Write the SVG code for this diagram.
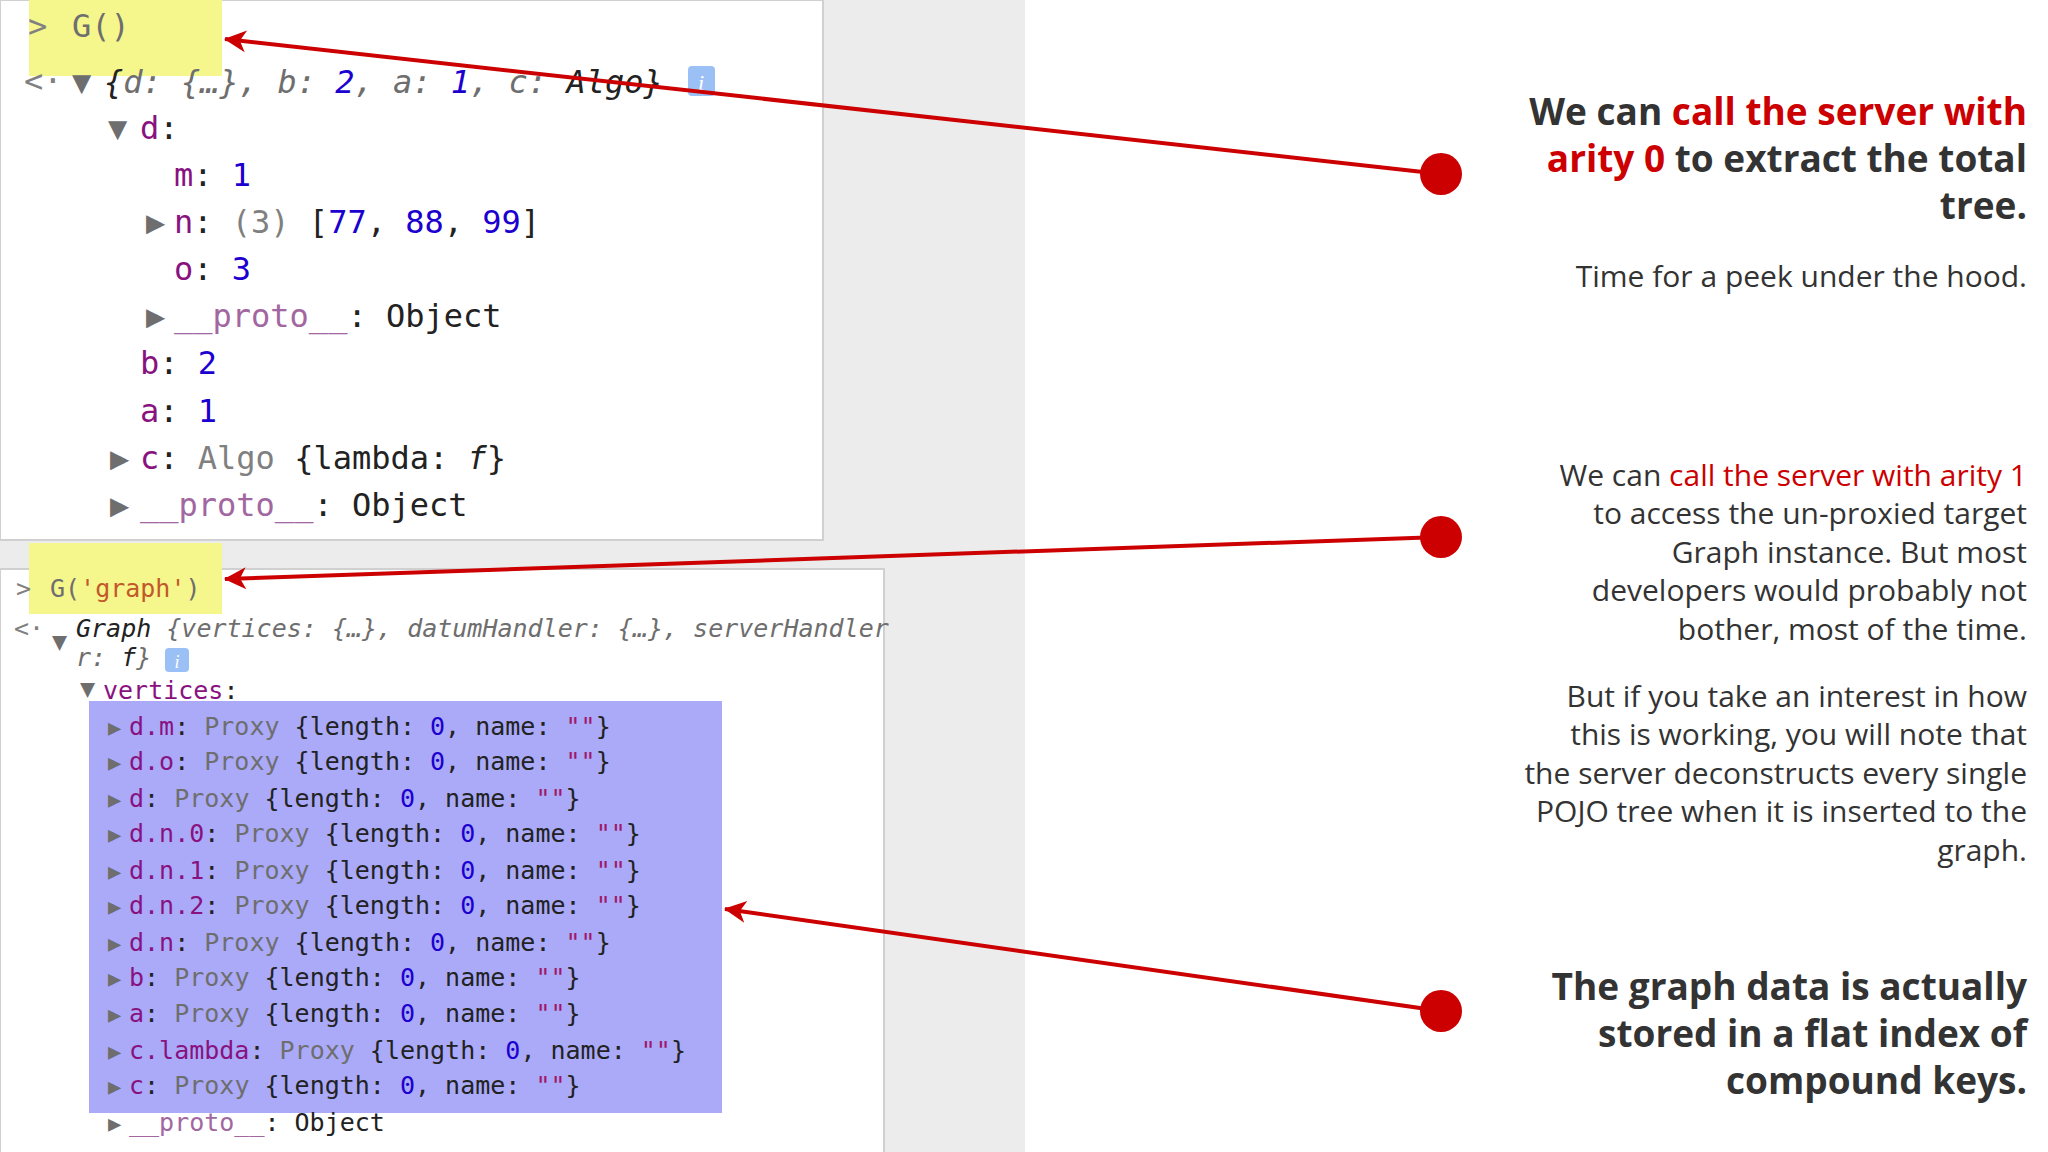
<svg xmlns="http://www.w3.org/2000/svg" width="2048" height="1152" viewBox="0 0 2048 1152">
<style>
.m1{font-family:"DejaVu Sans Mono",monospace;font-size:32px}
.m2{font-family:"DejaVu Sans Mono",monospace;font-size:25px}
.k{fill:#881280}.n{fill:#1c00cf}.g{fill:#808080}.b{fill:#222}.s{fill:#a0186a}.o{fill:#c1582a}
.t{fill:#6e6e6e}
.it{font-style:italic}
.h{font-family:"Open Sans",sans-serif;font-size:37px;font-weight:700;fill:#333;text-anchor:end}
.p{font-family:"Open Sans",sans-serif;font-size:30px;fill:#333;text-anchor:end}
.r{fill:#cc0000}
.c{stroke:#cc0000;stroke-width:4;fill:none}
</style>
<defs>
<marker id="ah" viewBox="0 0 10 10" refX="9" refY="5" markerWidth="10" markerHeight="10" markerUnits="userSpaceOnUse" orient="auto" style="overflow:visible">
<path d="M10,5 L-12,-6 L-6,5 L-12,16 Z" fill="#cc0000"/>
</marker>
</defs>
<rect width="2048" height="1152" fill="#fff"/>
<rect x="0" y="0" width="1025" height="1152" fill="#ececec"/>
<g id="panel1">
<rect x="0" y="0" width="823" height="540" fill="#fff" stroke="#d0d0d0" stroke-width="2"/>
<rect x="29" y="0" width="193" height="76" fill="#f5f68c"/>
<text class="m1 g" x="28" y="37">&gt;</text>
<text class="m1 t" x="72" y="37">G()</text>
<text class="m1 g" x="24" y="92" font-size="26">&lt;·</text>
<text class="m1 t" x="72" y="93">▼</text>
<text class="m1 it" x="104" y="93"><tspan class="b">{</tspan><tspan class="t">d: {…}, b: </tspan><tspan class="n">2</tspan><tspan class="t">, a: </tspan><tspan class="n">1</tspan><tspan class="t">, c: </tspan><tspan class="b">Algo}</tspan></text>
<rect x="688" y="66" width="27" height="30" rx="4" fill="#9bc0f5"/>
<text x="701" y="90" font-family="Liberation Serif,serif" font-style="italic" font-size="22" fill="#fff" text-anchor="middle">i</text>
<text class="m1 t" x="108" y="139" font-size="26">▼</text>
<text class="m1 k" x="140" y="139">d<tspan class="b">:</tspan></text>
<text class="m1" x="174" y="186"><tspan class="k">m</tspan><tspan class="b">: </tspan><tspan class="n">1</tspan></text>
<text class="m1 t" x="146" y="233" font-size="24">▶</text>
<text class="m1" x="174" y="233"><tspan class="k">n</tspan><tspan class="b">: </tspan><tspan class="g">(3) </tspan><tspan class="b">[</tspan><tspan class="n">77</tspan><tspan class="b">, </tspan><tspan class="n">88</tspan><tspan class="b">, </tspan><tspan class="n">99</tspan><tspan class="b">]</tspan></text>
<text class="m1" x="174" y="280"><tspan class="k">o</tspan><tspan class="b">: </tspan><tspan class="n">3</tspan></text>
<text class="m1 t" x="146" y="327" font-size="24">▶</text>
<text class="m1" x="174" y="327"><tspan fill="#a266a0">__proto__</tspan><tspan class="b">: Object</tspan></text>
<text class="m1" x="140" y="374"><tspan class="k">b</tspan><tspan class="b">: </tspan><tspan class="n">2</tspan></text>
<text class="m1" x="140" y="422"><tspan class="k">a</tspan><tspan class="b">: </tspan><tspan class="n">1</tspan></text>
<text class="m1 t" x="110" y="469" font-size="24">▶</text>
<text class="m1" x="140" y="469"><tspan class="k">c</tspan><tspan class="b">: </tspan><tspan class="g">Algo </tspan><tspan class="b">{lambda: </tspan><tspan class="b it">f</tspan><tspan class="b">}</tspan></text>
<text class="m1 t" x="110" y="516" font-size="24">▶</text>
<text class="m1" x="140" y="516"><tspan fill="#a266a0">__proto__</tspan><tspan class="b">: Object</tspan></text>
</g>
<g id="panel2">
<rect x="0" y="569" width="884" height="590" fill="#fff" stroke="#d0d0d0" stroke-width="2"/>
<rect x="29" y="543" width="193" height="71" fill="#f5f68c"/>
<text class="m2 g" x="16" y="597">&gt;</text>
<text class="m2" x="50" y="597"><tspan class="t">G(</tspan><tspan class="o">'graph'</tspan><tspan class="t">)</tspan></text>
<text class="m2 g" x="14" y="637" font-size="20">&lt;·</text>
<text class="m2 t" x="52" y="650" font-size="20">▼</text>
<text class="m2 it t" x="76" y="637"><tspan class="b">Graph</tspan> {vertices: {…}, datumHandler: {…}, serverHandler</text>
<text class="m2 it t" x="76" y="666">r: <tspan class="b">f</tspan>}</text>
<rect x="165" y="648" width="24" height="24" rx="4" fill="#9bc0f5"/>
<text x="177" y="668" font-family="Liberation Serif,serif" font-style="italic" font-size="18" fill="#fff" text-anchor="middle">i</text>
<text class="m2 t" x="80" y="697" font-size="20">▼</text>
<text class="m2" x="103" y="699"><tspan class="k">vertices</tspan><tspan class="b">:</tspan></text>
<rect x="89" y="701" width="633" height="412" fill="#aaaaf9"/>
<g class="m2">
<text x="108" y="735" font-size="22" class="t">▶</text><text x="129" y="735"><tspan class="k">d.m</tspan><tspan class="b">: </tspan><tspan class="t">Proxy </tspan><tspan class="b">{length: </tspan><tspan class="n">0</tspan><tspan class="b">, name: </tspan><tspan class="s">""</tspan><tspan class="b">}</tspan></text>
<text x="108" y="770" font-size="22" class="t">▶</text><text x="129" y="770"><tspan class="k">d.o</tspan><tspan class="b">: </tspan><tspan class="t">Proxy </tspan><tspan class="b">{length: </tspan><tspan class="n">0</tspan><tspan class="b">, name: </tspan><tspan class="s">""</tspan><tspan class="b">}</tspan></text>
<text x="108" y="807" font-size="22" class="t">▶</text><text x="129" y="807"><tspan class="k">d</tspan><tspan class="b">: </tspan><tspan class="t">Proxy </tspan><tspan class="b">{length: </tspan><tspan class="n">0</tspan><tspan class="b">, name: </tspan><tspan class="s">""</tspan><tspan class="b">}</tspan></text>
<text x="108" y="842" font-size="22" class="t">▶</text><text x="129" y="842"><tspan class="k">d.n.0</tspan><tspan class="b">: </tspan><tspan class="t">Proxy </tspan><tspan class="b">{length: </tspan><tspan class="n">0</tspan><tspan class="b">, name: </tspan><tspan class="s">""</tspan><tspan class="b">}</tspan></text>
<text x="108" y="879" font-size="22" class="t">▶</text><text x="129" y="879"><tspan class="k">d.n.1</tspan><tspan class="b">: </tspan><tspan class="t">Proxy </tspan><tspan class="b">{length: </tspan><tspan class="n">0</tspan><tspan class="b">, name: </tspan><tspan class="s">""</tspan><tspan class="b">}</tspan></text>
<text x="108" y="914" font-size="22" class="t">▶</text><text x="129" y="914"><tspan class="k">d.n.2</tspan><tspan class="b">: </tspan><tspan class="t">Proxy </tspan><tspan class="b">{length: </tspan><tspan class="n">0</tspan><tspan class="b">, name: </tspan><tspan class="s">""</tspan><tspan class="b">}</tspan></text>
<text x="108" y="951" font-size="22" class="t">▶</text><text x="129" y="951"><tspan class="k">d.n</tspan><tspan class="b">: </tspan><tspan class="t">Proxy </tspan><tspan class="b">{length: </tspan><tspan class="n">0</tspan><tspan class="b">, name: </tspan><tspan class="s">""</tspan><tspan class="b">}</tspan></text>
<text x="108" y="986" font-size="22" class="t">▶</text><text x="129" y="986"><tspan class="k">b</tspan><tspan class="b">: </tspan><tspan class="t">Proxy </tspan><tspan class="b">{length: </tspan><tspan class="n">0</tspan><tspan class="b">, name: </tspan><tspan class="s">""</tspan><tspan class="b">}</tspan></text>
<text x="108" y="1022" font-size="22" class="t">▶</text><text x="129" y="1022"><tspan class="k">a</tspan><tspan class="b">: </tspan><tspan class="t">Proxy </tspan><tspan class="b">{length: </tspan><tspan class="n">0</tspan><tspan class="b">, name: </tspan><tspan class="s">""</tspan><tspan class="b">}</tspan></text>
<text x="108" y="1059" font-size="22" class="t">▶</text><text x="129" y="1059"><tspan class="k">c.lambda</tspan><tspan class="b">: </tspan><tspan class="t">Proxy </tspan><tspan class="b">{length: </tspan><tspan class="n">0</tspan><tspan class="b">, name: </tspan><tspan class="s">""</tspan><tspan class="b">}</tspan></text>
<text x="108" y="1094" font-size="22" class="t">▶</text><text x="129" y="1094"><tspan class="k">c</tspan><tspan class="b">: </tspan><tspan class="t">Proxy </tspan><tspan class="b">{length: </tspan><tspan class="n">0</tspan><tspan class="b">, name: </tspan><tspan class="s">""</tspan><tspan class="b">}</tspan></text>
<text x="108" y="1131" font-size="22" class="t">▶</text><text x="129" y="1131"><tspan fill="#a266a0">__proto__</tspan><tspan class="b">: Object</tspan></text>
</g>
</g>
<g id="connectors">
<line class="c" x1="1441" y1="174" x2="225" y2="39" marker-end="url(#ah)"/>
<line class="c" x1="1441" y1="537" x2="225" y2="579" marker-end="url(#ah)"/>
<line class="c" x1="1441" y1="1011" x2="725" y2="909" marker-end="url(#ah)"/>
<circle cx="1441" cy="174" r="21" fill="#cc0000"/>
<circle cx="1441" cy="537" r="21" fill="#cc0000"/>
<circle cx="1441" cy="1011" r="21" fill="#cc0000"/>
</g>
<g id="text1">
<text class="h" x="2027" y="125">We can <tspan class="r">call the server with</tspan></text>
<text class="h" x="2027" y="172"><tspan class="r">arity 0</tspan> to extract the total</text>
<text class="h" x="2027" y="219">tree.</text>
<text class="p" x="2027" y="287">Time for a peek under the hood.</text>
</g>
<g id="text2">
<text class="p" x="2027" y="486">We can <tspan class="r">call the server with arity 1</tspan></text>
<text class="p" x="2027" y="524">to access the un-proxied target</text>
<text class="p" x="2027" y="563">Graph instance. But most</text>
<text class="p" x="2027" y="601">developers would probably not</text>
<text class="p" x="2027" y="640">bother, most of the time.</text>
<text class="p" x="2027" y="707">But if you take an interest in how</text>
<text class="p" x="2027" y="745">this is working, you will note that</text>
<text class="p" x="2027" y="784">the server deconstructs every single</text>
<text class="p" x="2027" y="822">POJO tree when it is inserted to the</text>
<text class="p" x="2027" y="861">graph.</text>
</g>
<g id="text3">
<text class="h" x="2027" y="1000">The graph data is actually</text>
<text class="h" x="2027" y="1047">stored in a flat index of</text>
<text class="h" x="2027" y="1094">compound keys.</text>
</g>
</svg>
